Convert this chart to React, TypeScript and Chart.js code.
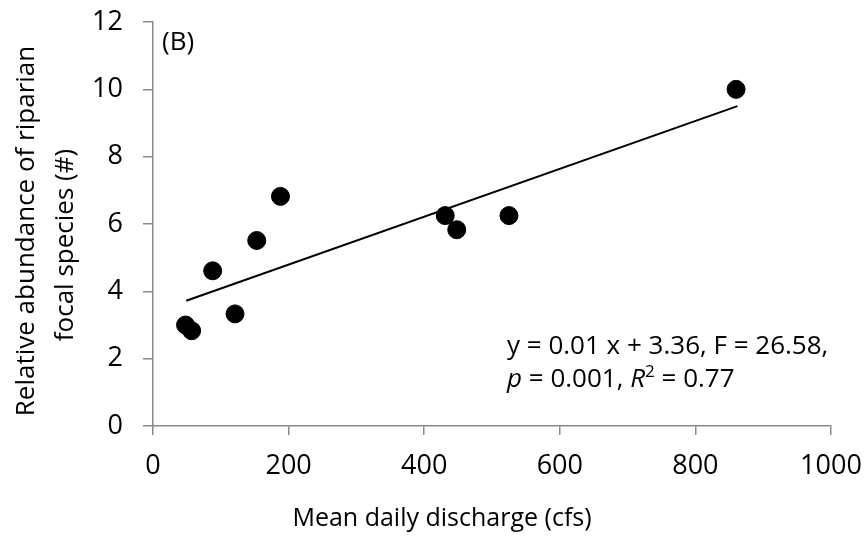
import React, { useEffect, useRef } from 'react';
import { Chart, registerables } from 'chart.js';

Chart.register(...registerables);

// Data
const discharge = [48, 57, 88, 121, 153, 188, 431, 448, 525, 860];
const abundance = [3.0, 2.83, 4.61, 3.33, 5.51, 6.82, 6.25, 5.83, 6.25, 10.0];
const trendX = [49, 862];
const trendY = [3.72, 9.5];
const xTicks = [0, 200, 400, 600, 800, 1000];
const yTicks = [0, 2, 4, 6, 8, 10, 12];

const xTitle = 'Mean daily discharge (cfs)';
const yTitleLines = ['Relative abundance of riparian', 'focal species (#)'];
const panelLabel = '(B)';

const FONT = '"Open Sans", "DejaVu Sans", sans-serif';
const AXIS_COLOR = '#898989';

const textPlugin = {
  id: 'customText',
  afterDraw(chart: any) {
    const ctx = chart.ctx as CanvasRenderingContext2D;
    ctx.save();
    ctx.fillStyle = '#000';
    ctx.textBaseline = 'alphabetic';

    // x axis title
    ctx.font = `25px ${FONT}`;
    ctx.textAlign = 'center';
    ctx.fillText(xTitle, 442, 526);

    // y axis title (rotated)
    ctx.font = `26px ${FONT}`;
    const yCenters = [231, 245];
    const yBase = [34, 73];
    yTitleLines.forEach((line, i) => {
      ctx.save();
      ctx.translate(yBase[i], yCenters[i]);
      ctx.rotate(-Math.PI / 2);
      ctx.textAlign = 'center';
      ctx.fillText(line, 0, 0);
      ctx.restore();
    });

    // panel label
    ctx.font = `26px ${FONT}`;
    ctx.textAlign = 'left';
    ctx.fillText(panelLabel, 162, 50);

    // regression annotation
    const x0 = 507;
    ctx.font = `26px ${FONT}`;
    ctx.fillText('y = 0.01 x + 3.36, F = 26.58,', x0, 354);
    let x = x0;
    const b2 = 387;
    const seg = (t: string, font: string, dy = 0) => {
      ctx.font = font;
      ctx.fillText(t, x, b2 + dy);
      x += ctx.measureText(t).width;
    };
    seg('p', `italic 26px ${FONT}`);
    seg(' = 0.001, ', `26px ${FONT}`);
    seg('R', `italic 26px ${FONT}`);
    seg('2', `17px ${FONT}`, -10);
    seg(' = 0.77', `26px ${FONT}`);
    ctx.restore();
  },
};

const zeroPad = (s: any) => {
  s.paddingTop = 0;
  s.paddingBottom = 0;
  s.paddingLeft = 0;
  s.paddingRight = 0;
};

export default function App() {
  const ref = useRef<HTMLCanvasElement | null>(null);
  useEffect(() => {
    if (!ref.current) return;
    const chart = new Chart(ref.current, {
      type: 'scatter',
      data: {
        datasets: [
          {
            type: 'line',
            data: trendX.map((x, i) => ({ x, y: trendY[i] })),
            borderColor: '#000',
            borderWidth: 2,
            pointRadius: 0,
            fill: false,
            order: 2,
          } as any,
          {
            type: 'scatter',
            data: discharge.map((x, i) => ({ x, y: abundance[i] })),
            backgroundColor: '#000',
            borderColor: '#000',
            pointRadius: 9,
            pointHoverRadius: 9,
            order: 1,
          },
        ],
      },
      options: {
        responsive: false,
        animation: false,
        layout: { padding: { top: 22, right: 36, left: 0, bottom: 0 } },
        plugins: { legend: { display: false }, tooltip: { enabled: false } },
        scales: {
          x: {
            type: 'linear',
            min: 0,
            max: 1000,
            afterBuildTicks: (s: any) => {
              s.ticks = xTicks.map((v) => ({ value: v }));
            },
            afterFit: (s: any) => {
              s.height = 111;
              zeroPad(s);
            },
            ticks: {
              color: '#000',
              font: { family: FONT, size: 27 },
              padding: 15,
              maxRotation: 0,
              callback: (v: any) => String(v),
            },
            grid: {
              drawOnChartArea: false,
              drawTicks: true,
              tickLength: 9,
              color: AXIS_COLOR,
              lineWidth: 1.5,
            },
            border: { color: AXIS_COLOR, width: 1.5 },
          },
          y: {
            type: 'linear',
            min: 0,
            max: 12,
            afterBuildTicks: (s: any) => {
              s.ticks = yTicks.map((v) => ({ value: v }));
            },
            afterFit: (s: any) => {
              s.width = 153;
              zeroPad(s);
            },
            ticks: {
              color: '#000',
              font: { family: FONT, size: 27 },
              padding: 20,
              callback: (v: any) => String(v),
            },
            grid: {
              drawOnChartArea: false,
              drawTicks: true,
              tickLength: 10,
              color: AXIS_COLOR,
              lineWidth: 1.5,
            },
            border: { color: AXIS_COLOR, width: 1.5 },
          },
        },
      },
      plugins: [textPlugin],
    });
    return () => chart.destroy();
  }, []);
  return (
    <div style={{ position: 'fixed', left: 0, top: 0, width: 867, height: 537, background: '#fff' }}>
      <canvas ref={ref} width={867} height={537} />
    </div>
  );
}
